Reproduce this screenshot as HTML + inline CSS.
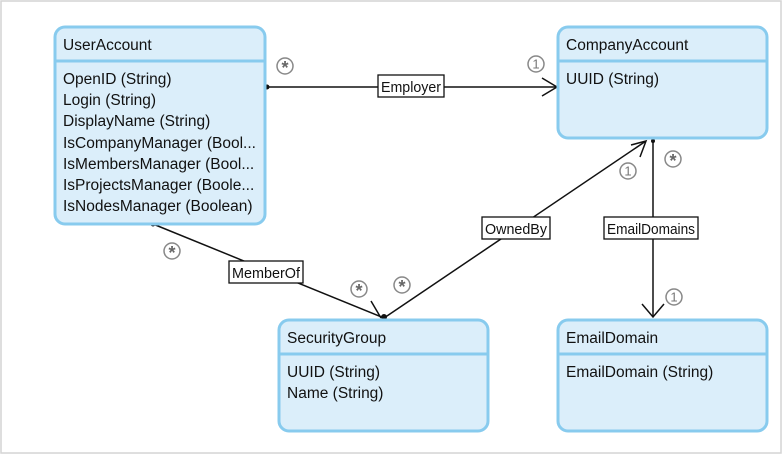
<!DOCTYPE html>
<html><head><meta charset="utf-8"><style>
html,body{margin:0;padding:0;background:#fff}
svg{display:block}
text{font-family:"Liberation Sans",sans-serif;font-size:15.5px;fill:#111}
.b{fill:#dbeefa;stroke:#88cbee;stroke-width:3}
.d{stroke:#88cbee;stroke-width:3}
.l{stroke:#111;stroke-width:1.5;fill:none}
.lb{fill:#fff;stroke:#111;stroke-width:1.3}
.t{font-size:14.5px}
.c{fill:#fff;stroke:#888;stroke-width:1.5}
.m{font-size:13px;fill:#777;text-anchor:middle}
.s{font-size:18px;fill:#666;text-anchor:middle;font-weight:bold}
</style></head><body>
<svg width="783" height="454" viewBox="0 0 783 454">
<rect x="1" y="1" width="780" height="452" fill="#fff" stroke="#d4d4d4" stroke-width="1.5"/>

<path class="l" d="M267 87 L556 87"/>
<path class="l" d="M542 78 L557 87 L542 96"/>
<circle cx="267" cy="87" r="2.5" fill="#111"/>

<path class="l" d="M153 224 L384 318"/>
<circle cx="153" cy="224" r="2.5" fill="#111"/>
<path class="l" d="M371 301 L381 318"/>

<path class="l" d="M384 318 L646 141"/>
<circle cx="384" cy="317" r="3" fill="#111"/>
<path class="l" d="M640 157 L646 141 L631 145"/>

<path class="l" d="M653 141 L653 316"/>
<circle cx="653" cy="141" r="2" fill="#111"/>
<path class="l" d="M642 304 L653 317 L664 304"/>

<rect class="lb" x="378" y="75" width="66" height="22"/><text class="t" x="381" y="92" textLength="60" lengthAdjust="spacingAndGlyphs">Employer</text>
<rect class="lb" x="229" y="261" width="74" height="22"/><text class="t" x="232" y="278" textLength="68" lengthAdjust="spacingAndGlyphs">MemberOf</text>
<rect class="lb" x="482" y="217" width="68" height="22"/><text class="t" x="485" y="234" textLength="62" lengthAdjust="spacingAndGlyphs">OwnedBy</text>
<rect class="lb" x="604" y="217" width="94" height="22"/><text class="t" x="607" y="234" textLength="88" lengthAdjust="spacingAndGlyphs">EmailDomains</text>

<circle class="c" cx="285" cy="66" r="8"/><text class="s" x="285" y="74">*</text>
<circle class="c" cx="536" cy="64" r="8"/><text class="m" x="536" y="68.5">1</text>
<circle class="c" cx="172" cy="251" r="8"/><text class="s" x="172" y="259">*</text>
<circle class="c" cx="359" cy="289" r="8"/><text class="s" x="359" y="297">*</text>
<circle class="c" cx="402" cy="285" r="8"/><text class="s" x="402" y="293">*</text>
<circle class="c" cx="628" cy="171" r="8"/><text class="m" x="628" y="175.5">1</text>
<circle class="c" cx="673" cy="159" r="8"/><text class="s" x="673" y="167">*</text>
<circle class="c" cx="674" cy="297" r="8"/><text class="m" x="674" y="301.5">1</text>

<rect class="b" x="55" y="27" width="210" height="197" rx="10"/>
<line class="d" x1="55" y1="61" x2="265" y2="61"/>
<text x="63" y="50">UserAccount</text>
<text x="63" y="84">OpenID (String)</text>
<text x="63" y="105">Login (String)</text>
<text x="63" y="126">DisplayName (String)</text>
<text x="63" y="148">IsCompanyManager (Bool...</text>
<text x="63" y="169">IsMembersManager (Bool...</text>
<text x="63" y="190">IsProjectsManager (Boole...</text>
<text x="63" y="211">IsNodesManager (Boolean)</text>

<rect class="b" x="558" y="27" width="209" height="111" rx="10"/>
<line class="d" x1="558" y1="61" x2="767" y2="61"/>
<text x="566" y="50">CompanyAccount</text>
<text x="566" y="84">UUID (String)</text>

<rect class="b" x="279" y="320" width="209" height="111" rx="10"/>
<line class="d" x1="279" y1="354" x2="488" y2="354"/>
<text x="287" y="343">SecurityGroup</text>
<text x="287" y="377">UUID (String)</text>
<text x="287" y="398">Name (String)</text>

<rect class="b" x="558" y="320" width="209" height="111" rx="10"/>
<line class="d" x1="558" y1="354" x2="767" y2="354"/>
<text x="566" y="343">EmailDomain</text>
<text x="566" y="377">EmailDomain (String)</text>
</svg>
</body></html>
